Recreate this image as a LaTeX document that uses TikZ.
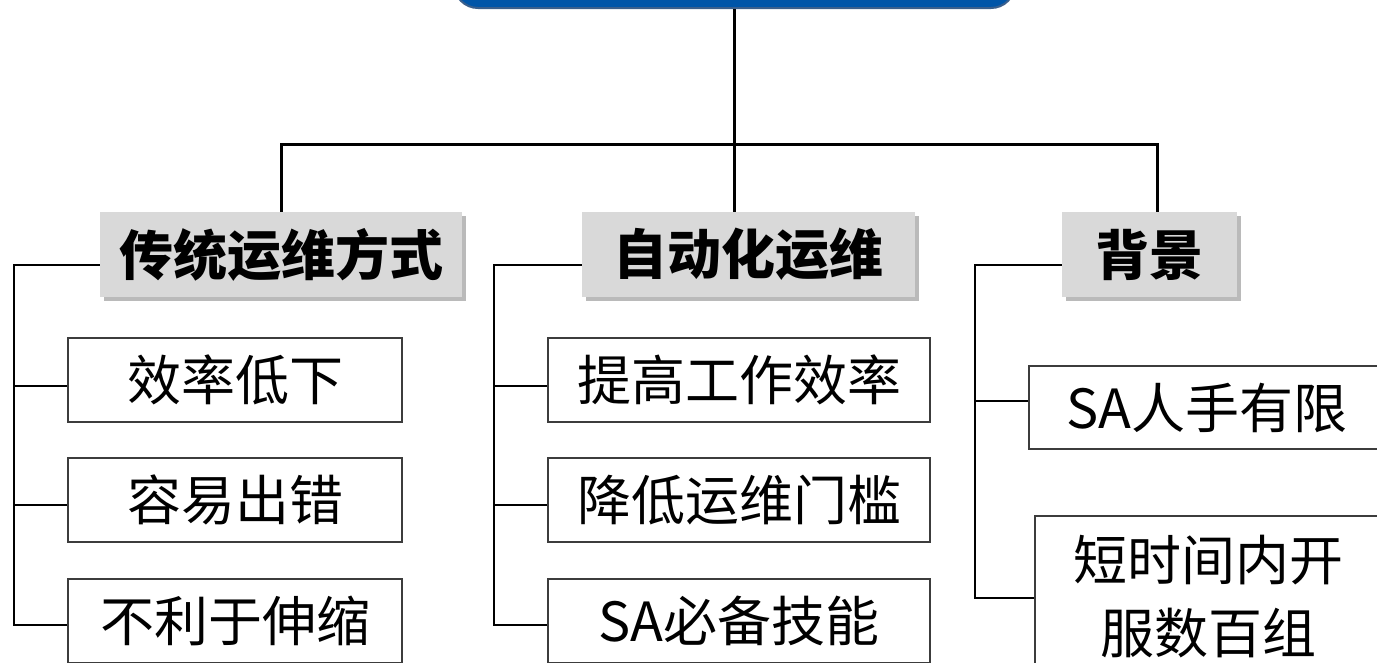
\documentclass[tikz,border=0pt]{standalone}
\usepackage{fontspec}
\setmainfont{Noto Sans CJK SC}
\usetikzlibrary{shadows}
\definecolor{topblue}{HTML}{0055A8}
\definecolor{topedge}{HTML}{3A5F8C}
\definecolor{headgray}{HTML}{D9D9D9}
\definecolor{leafedge}{HTML}{3C3C3C}
\begin{document}
\begin{tikzpicture}[x=1pt,y=1pt,
  topbox/.style={draw=topedge, line width=2, fill=topblue, rounded corners=24, minimum width=561, minimum height=90, inner sep=0},
  headbox/.style={fill=headgray, minimum height=85, inner sep=0,
    font=\fontsize{54}{60}\selectfont\bfseries,
    drop shadow={shadow xshift=4pt, shadow yshift=-4pt, opacity=0.45, fill=black!60}},
  leafbox/.style={draw=leafedge, line width=1.6, fill=white, minimum height=84, inner sep=0,
    align=center, font=\fontsize{54}{73}\selectfont},
  bus/.style={line width=3, black},
  branch/.style={line width=2, black}]
\useasboundingbox (0,0) rectangle (1377,-662);
\clip (0,0) rectangle (1377,-662);

% top box (cut by the upper edge)
\node[topbox, anchor=south] (top) at (734.5,-9) {};

% headers
\node[headbox, minimum width=362] (h1) at (281,-254.5) {传统运维方式};
\node[headbox, minimum width=333] (h2) at (748.5,-254.5) {自动化运维};
\node[headbox, minimum width=175] (h3) at (1149.5,-254.5) {背景};

% leaves column 1
\node[leafbox, minimum width=334] (l11) at (235,-380) {效率低下};
\node[leafbox, minimum width=334] (l12) at (235,-500) {容易出错};
\node[leafbox, minimum width=334] (l13) at (235,-621) {不利于伸缩};
% leaves column 2
\node[leafbox, minimum width=382] (l21) at (739,-380) {提高工作效率};
\node[leafbox, minimum width=382] (l22) at (739,-500) {降低运维门槛};
\node[leafbox, minimum width=382] (l23) at (739,-621) {SA必备技能};
% leaves column 3
\node[leafbox, minimum width=356, minimum height=83] (l31) at (1207,-407.5) {SA人手有限};
\node[leafbox, minimum width=346, minimum height=162] (l32) at (1208,-597) {短时间内开\\服数百组};

% bus connectors
\coordinate (d3) at (1157,-144);
\draw[bus] (top.south) -- (top.south |- h2.north);
\draw[bus] (h1.north) |- (d3) -- (d3 |- h3.north);

% brackets
\coordinate (b1) at (14,-265);
\coordinate (b2) at (494,-265);
\coordinate (b3) at (975,-265);
\draw[branch] ([yshift=-10.5]h1.west) -- (b1) |- ([yshift=-4]l13.west);
\draw[branch] (b1 |- 0,-386) -- ([yshift=-6]l11.west);
\draw[branch] (b1 |- 0,-505) -- ([yshift=-5]l12.west);
\draw[branch] ([yshift=-10.5]h2.west) -- (b2) |- ([yshift=-4]l23.west);
\draw[branch] (b2 |- 0,-386) -- ([yshift=-6]l21.west);
\draw[branch] (b2 |- 0,-505) -- ([yshift=-5]l22.west);
\draw[branch] ([yshift=-10.5]h3.west) -- (b3) |- (l32.west |- 0,-598);
\draw[branch] (b3 |- 0,-401) -- (l31.west |- 0,-401);
\end{tikzpicture}
\end{document}
